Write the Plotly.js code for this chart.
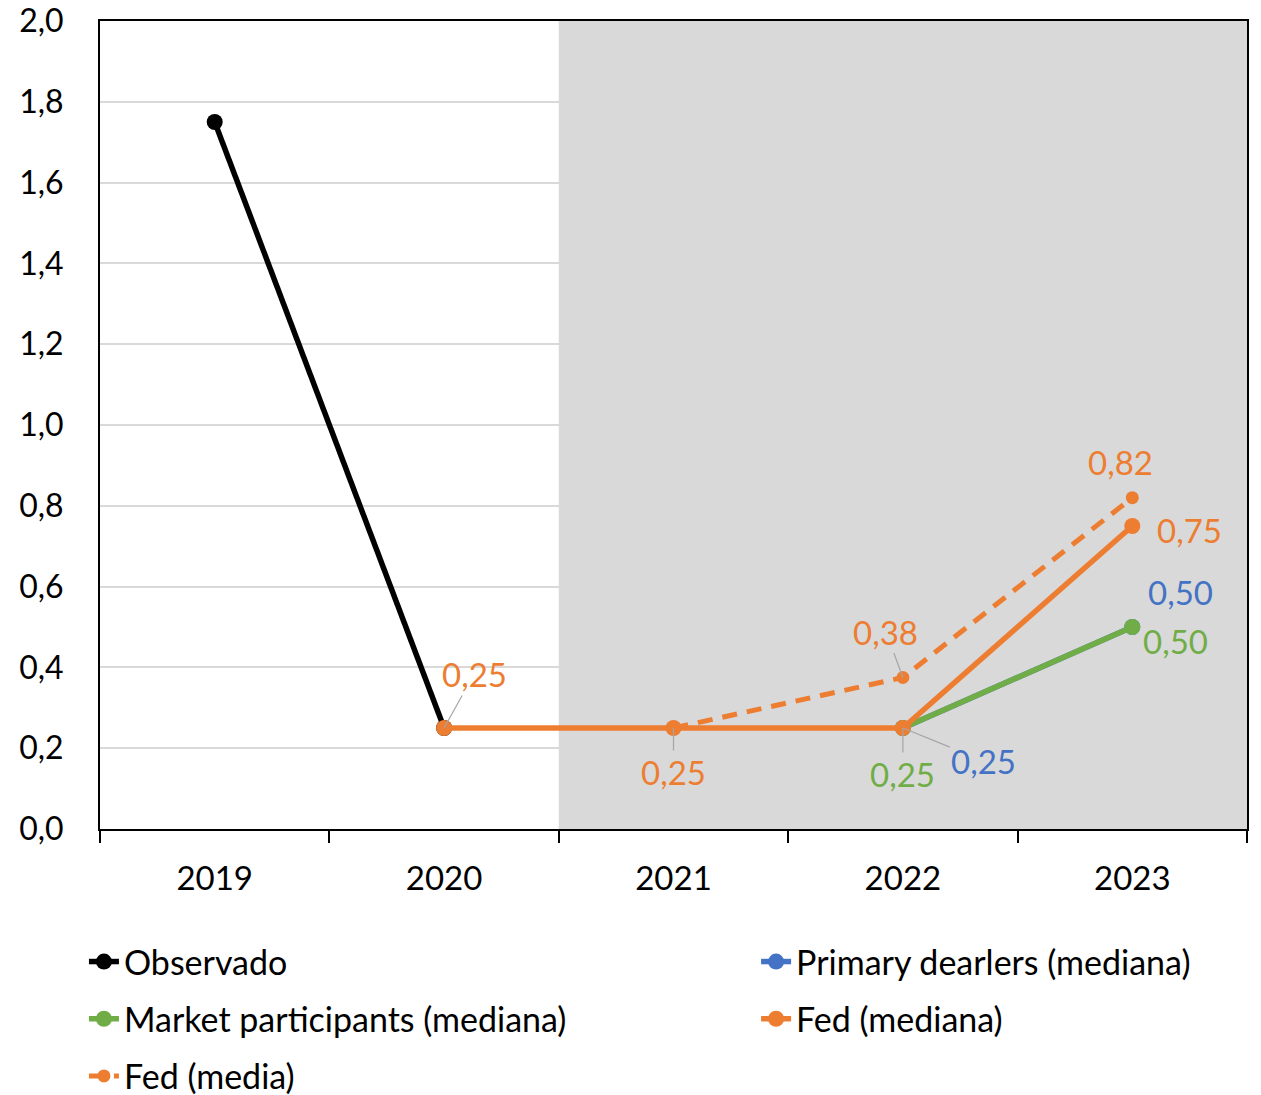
<!DOCTYPE html>
<html>
<head>
<meta charset="utf-8">
<script src="https://cdn.plot.ly/plotly-3.0.1.min.js"></script>
<style>body{margin:0;padding:0;background:#fff;} #chart{width:1261px;height:1095px;}</style>
</head>
<body>
<div id="chart"></div>
<script>
const years = ['2019', '2020', '2021', '2022', '2023'];

const obsYears = ['2019', '2020'];
const obsValues = [1.75, 0.25];

const primaryYears = ['2022', '2023'];
const primaryValues = [0.25, 0.50];

const marketYears = ['2022', '2023'];
const marketValues = [0.25, 0.50];

const fedMedianYears = ['2020', '2021', '2022', '2023'];
const fedMedianValues = [0.25, 0.25, 0.25, 0.75];

const fedMeanYears = ['2021', '2022', '2023'];
const fedMeanValues = [0.25, 0.375, 0.82];

const yTicks = [0, 0.2, 0.4, 0.6, 0.8, 1.0, 1.2, 1.4, 1.6, 1.8, 2.0];

const BLACK = '#000000', BLUE = '#4472C4', GREEN = '#70AD47', ORANGE = '#ED7D31';
const FONT = 'Lato, "Open Sans", sans-serif';
const FS = 33;

const traces = [
  {x: obsYears, y: obsValues, name: 'Observado', mode: 'lines+markers', legend: 'legend', legendgroup: 'a',
   line: {color: BLACK, width: 5.5}, marker: {color: BLACK, size: 16}},
  {x: primaryYears, y: primaryValues, name: 'Primary dearlers (mediana)', mode: 'lines+markers', legend: 'legend2', legendgroup: 'b',
   line: {color: BLUE, width: 5.5}, marker: {color: BLUE, size: 16}},
  {x: marketYears, y: marketValues, name: 'Market participants (mediana)', mode: 'lines+markers', legend: 'legend', legendgroup: 'c',
   line: {color: GREEN, width: 5.5}, marker: {color: GREEN, size: 16}},
  {x: fedMedianYears, y: fedMedianValues, name: 'Fed (mediana)', mode: 'lines+markers', legend: 'legend2', legendgroup: 'd',
   line: {color: ORANGE, width: 5.5}, marker: {color: ORANGE, size: 16}},
  {x: fedMeanYears, y: fedMeanValues, name: 'Fed (media)', mode: 'lines+markers', legend: 'legend', legendgroup: 'e',
   line: {color: ORANGE, width: 5, dash: '15px,10px'}, marker: {color: ORANGE, size: 13}}
];

function fmt(v) { return v.toFixed(2).replace('.', ','); }

function lab(x, y, color, opts) {
  return Object.assign({x: years.indexOf(x), y: y, xref: 'x', yref: 'y', text: fmt(y),
    font: {family: FONT, size: FS, color: color}}, opts);
}
const LEAD = {showarrow: true, arrowhead: 0, arrowwidth: 1.2, arrowcolor: '#a6a6a6', standoff: 0};

const annotations = [
  lab(fedMedianYears[0], fedMedianValues[0], ORANGE, Object.assign({}, LEAD, {ax: 30, ay: -54})),
  lab(fedMedianYears[1], fedMedianValues[1], ORANGE, Object.assign({}, LEAD, {ax: 0, ay: 44})),
  lab(fedMeanYears[1], fedMeanValues[1], ORANGE, Object.assign({}, LEAD, {ax: -17, ay: -46})),
  lab(marketYears[0], marketValues[0], GREEN, Object.assign({}, LEAD, {ax: 0, ay: 46})),
  lab(primaryYears[0], primaryValues[0], BLUE, Object.assign({}, LEAD, {ax: 81, ay: 33})),
  lab(fedMeanYears[2], fedMeanValues[2], ORANGE, {showarrow: false, xshift: -12, yshift: 36}),
  lab(fedMedianYears[3], fedMedianValues[3], ORANGE, {showarrow: false, xshift: 57, yshift: -4}),
  lab(primaryYears[1], primaryValues[1], BLUE, {showarrow: false, xshift: 48, yshift: 35}),
  lab(marketYears[1], marketValues[1], GREEN, {showarrow: false, xshift: 43, yshift: -14})
];

const legendCommon = {orientation: 'v', xanchor: 'left', yref: 'container', yanchor: 'top',
  tracegroupgap: 10, itemwidth: 30, bgcolor: 'rgba(0,0,0,0)',
  font: {family: FONT, size: FS + 1, color: '#000'}};

const layout = {
  width: 1261, height: 1095,
  margin: {l: 100, r: 14, t: 21, b: 266},
  paper_bgcolor: '#ffffff', plot_bgcolor: '#ffffff',
  separators: ',.',
  font: {family: FONT, size: FS, color: '#000'},
  showlegend: true,
  legend: Object.assign({x: -0.014, y: 0.148}, legendCommon),
  legend2: Object.assign({x: 0.572, y: 0.148}, legendCommon),
  xaxis: {type: 'category', categoryorder: 'array', categoryarray: years,
          range: [-0.5, 4.5], tickson: 'boundaries', ticks: 'outside', ticklen: 12,
          tickwidth: 1.5, tickcolor: '#000', showline: true, linecolor: '#000', linewidth: 2,
          mirror: true, showgrid: false, zeroline: false, ticklabelstandoff: 19,
          tickfont: {family: FONT, size: FS, color: '#000'}, fixedrange: true},
  yaxis: {range: [0, 2], tickvals: yTicks, tickformat: '.1f', showline: true,
          linecolor: '#000', linewidth: 2, mirror: true, ticks: '', showgrid: true,
          gridcolor: '#d9d9d9', gridwidth: 2, zeroline: false, ticklabelstandoff: 28,
          ticklabeloverflow: 'allow', automargin: false,
          tickfont: {family: FONT, size: FS - 1, color: '#000'}, fixedrange: true},
  shapes: [{type: 'rect', xref: 'x', yref: 'y', x0: 1.5, x1: 4.5, y0: 0, y1: 2,
            fillcolor: '#d9d9d9', line: {width: 0}, layer: 'between'}],
  annotations: annotations
};

Plotly.newPlot('chart', traces, layout, {displayModeBar: false});
</script>
</body>
</html>
